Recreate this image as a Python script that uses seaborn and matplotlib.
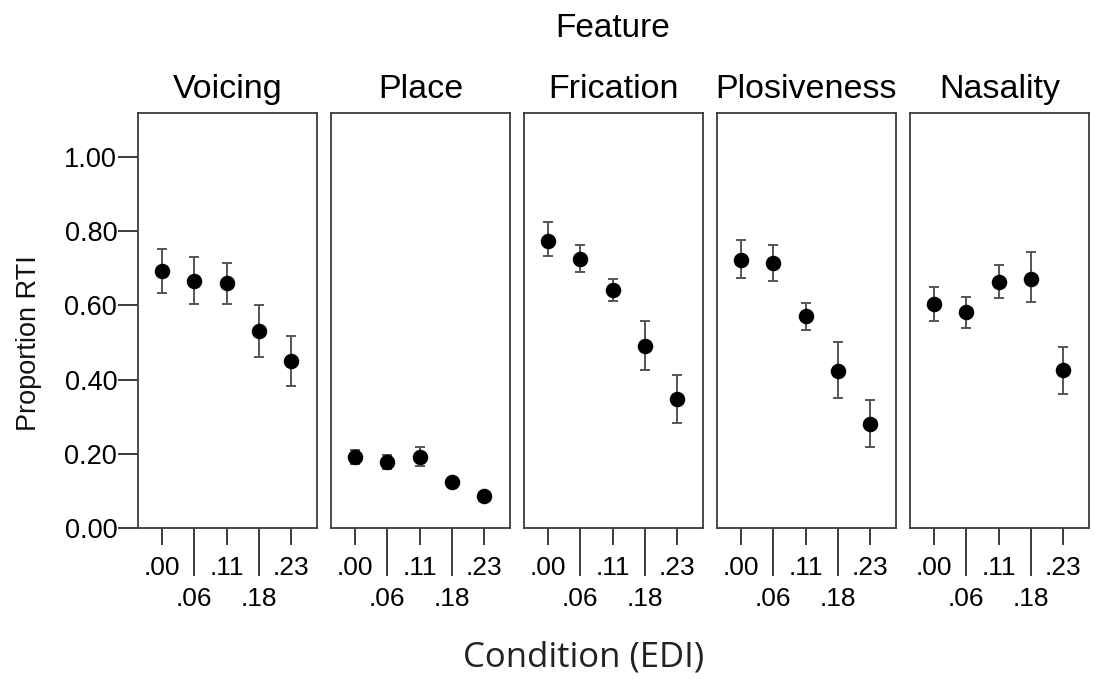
import numpy as np
import pandas as pd
import matplotlib
matplotlib.use("Agg")
import matplotlib.pyplot as plt
import seaborn as sns

features = ["Voicing", "Place", "Frication", "Plosiveness", "Nasality"]
conditions = [".00", ".06", ".11", ".18", ".23"]

voicing_mean = [0.693, 0.666, 0.660, 0.531, 0.450]
voicing_lo = [0.633, 0.604, 0.604, 0.461, 0.383]
voicing_hi = [0.752, 0.730, 0.714, 0.601, 0.517]

place_mean = [0.191, 0.178, 0.191, 0.124, 0.086]
place_lo = [0.172, 0.160, 0.167, 0.114, 0.078]
place_hi = [0.210, 0.196, 0.218, 0.134, 0.094]

frication_mean = [0.774, 0.725, 0.641, 0.491, 0.348]
frication_lo = [0.733, 0.690, 0.612, 0.426, 0.283]
frication_hi = [0.825, 0.763, 0.671, 0.558, 0.412]

plosiveness_mean = [0.722, 0.714, 0.571, 0.423, 0.280]
plosiveness_lo = [0.674, 0.666, 0.534, 0.350, 0.218]
plosiveness_hi = [0.776, 0.763, 0.606, 0.501, 0.345]

nasality_mean = [0.604, 0.582, 0.663, 0.671, 0.426]
nasality_lo = [0.558, 0.539, 0.620, 0.609, 0.361]
nasality_hi = [0.650, 0.623, 0.709, 0.744, 0.488]

means = [voicing_mean, place_mean, frication_mean, plosiveness_mean, nasality_mean]
los = [voicing_lo, place_lo, frication_lo, plosiveness_lo, nasality_lo]
his = [voicing_hi, place_hi, frication_hi, plosiveness_hi, nasality_hi]

yticks = [0.0, 0.2, 0.4, 0.6, 0.8, 1.0]
ytick_labels = ["0.00", "0.20", "0.40", "0.60", "0.80", "1.00"]

sns.set_theme(style="white")
plt.rcParams["font.family"] = ["Liberation Sans", "DejaVu Sans"]

W, H = 1095, 679
fig = plt.figure(figsize=(W / 100, H / 100), dpi=100)

frame_col = "#3c3c3c"
panel_lefts = [138, 331, 524, 717, 910]
pw = 179
top_px, bot_px = 113, 528

for i, feat in enumerate(features):
    df = pd.DataFrame({"Condition": conditions, "mean": means[i],
                       "lo": los[i], "hi": his[i]})
    ax = fig.add_axes([panel_lefts[i] / W, 1 - bot_px / H, pw / W, (bot_px - top_px) / H])
    pos = np.arange(len(conditions))
    ax.errorbar(pos, df["mean"],
                yerr=[df["mean"] - df["lo"], df["hi"] - df["mean"]],
                fmt="none", ecolor="#555555", elinewidth=1.4, capsize=3.3,
                capthick=1.4, zorder=2)
    sns.scatterplot(x=pos, y=df["mean"], ax=ax, color="black", s=125,
                    edgecolor="black", linewidth=0, zorder=3, legend=False)
    ax.set_xlim(-0.74, 4.8)
    ax.set_ylim(0, 1.118)
    for sp in ax.spines.values():
        sp.set_color(frame_col)
        sp.set_linewidth(1.3)
        sp.set_visible(True)
    ax.set_xlabel("")
    ax.set_ylabel("")
    ax.text(0.5, 1 + 15 / (bot_px - top_px), feat, transform=ax.transAxes,
            ha="center", va="baseline", fontsize=24.5, color="black")
    # x ticks: alternating short/long
    ax.set_xticks(pos[0::2])
    ax.set_xticklabels(conditions[0::2])
    ax.set_xticks(pos[1::2], minor=True)
    ax.set_xticklabels(conditions[1::2], minor=True)
    ax.tick_params(axis="x", which="major", direction="out", length=12.5, width=1.4,
                   color=frame_col, labelsize=19, pad=7.5, bottom=True, labelcolor="black")
    ax.tick_params(axis="x", which="minor", direction="out", length=34.5, width=1.4,
                   color=frame_col, labelsize=19, pad=8, bottom=True, labelcolor="black")
    if i == 0:
        ax.set_yticks(yticks)
        ax.set_yticklabels(ytick_labels)
        ax.tick_params(axis="y", direction="out", length=14.5, width=1.4,
                       color=frame_col, labelsize=19.5, pad=0.5, left=True,
                       labelcolor="black")
    else:
        ax.set_yticks([])

fig.text(613 / W, 1 - 37 / H, "Feature", ha="center", va="baseline", fontsize=24,
         color="black")
fig.text(583.5 / W, 1 - 667 / H, "Condition (EDI)", ha="center", va="baseline",
         fontsize=25, color="#222222", family=["Open Sans", "DejaVu Sans"])
fig.text(29 / W, 1 - 343 / H, "Proportion RTI", ha="center", va="center",
         rotation=90, fontsize=19.5, color="#111111")

fig.savefig("out.png", dpi=100, facecolor="white")
